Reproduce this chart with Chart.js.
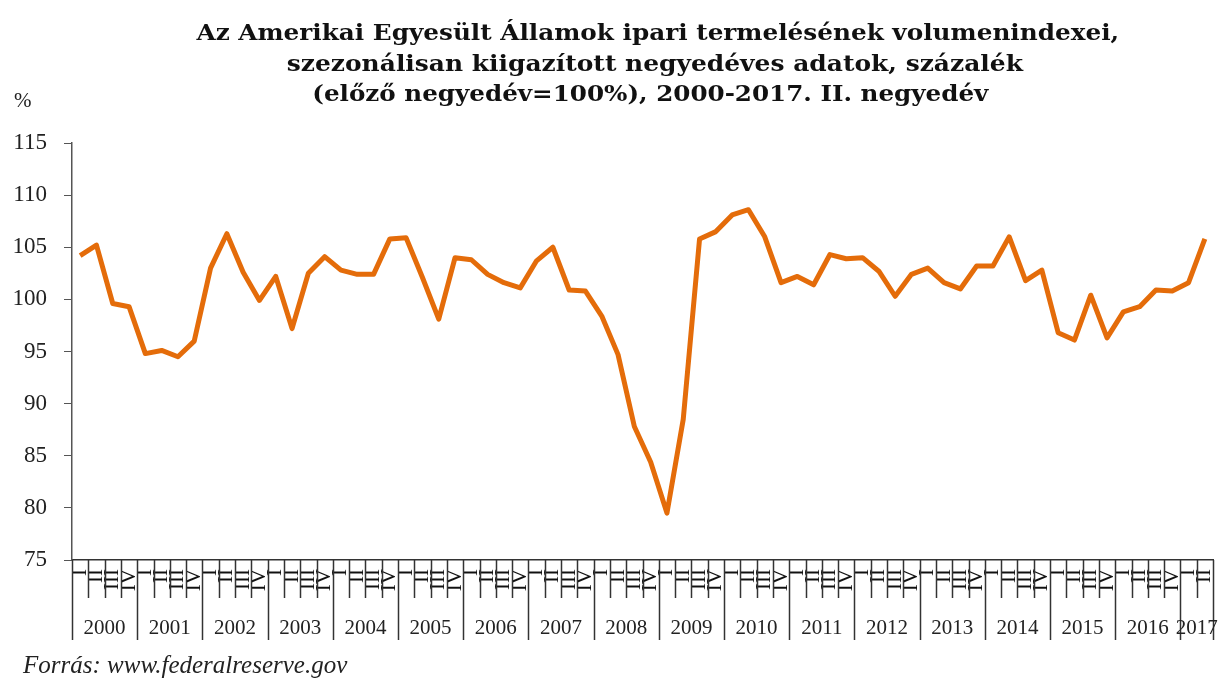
<!DOCTYPE html>
<html lang="hu">
<head>
<meta charset="utf-8">
<script src="https://cdn.jsdelivr.net/npm/chart.js@4.4.1/dist/chart.umd.min.js"></script>
<style>
    html, body { margin: 0; padding: 0; background: #fff; }
    #wrap { position: relative; width: 1222px; height: 682px; overflow: hidden; }
    #grafico { position: absolute; left: 0; top: 0; }
    .cim {
        position: absolute; left: 0; width: 1222px;
        text-align: center; font-family: "DejaVu Serif", serif; font-weight: bold;
        font-size: 22px; line-height: 31px; color: #111; white-space: nowrap;
    }
    .cim span { display: inline-block; transform-origin: center; }
    .egyseg { position: absolute; left: 14px; top: 88px; font-family: "Liberation Serif", serif; font-size: 21px; color: #222; }
    .forras { position: absolute; left: 23px; top: 651px; font-family: "Liberation Serif", serif; font-style: italic; font-size: 25px; color: #222; }
</style>
</head>
<body>
<div id="wrap">
    <canvas id="grafico" width="1222" height="682"></canvas>
    <div class="cim" id="cim1" style="top:17px">Az Amerikai Egyesült Államok ipari termelésének volumenindexei,</div>
    <div class="cim" id="cim2" style="top:48px">szezonálisan kiigazított negyedéves adatok, százalék</div>
    <div class="cim" id="cim3" style="top:78px">(előző negyedév=100%), 2000-2017. II. negyedév</div>
    <div class="egyseg">%</div>
    <div class="forras">Forrás: www.federalreserve.gov</div>
</div>
<script>
// Adatok
const evek = ['2000', '2001', '2002', '2003', '2004', '2005', '2006', '2007', '2008',
    '2009', '2010', '2011', '2012', '2013', '2014', '2015', '2016', '2017'];
const negyedevek = ['I', 'II', 'III', 'IV'];
const ertekek = [
    104.2, 105.2, 99.6, 99.3,
    94.8, 95.1, 94.5, 96.0,
    103.0, 106.3, 102.6, 99.9,
    102.2, 97.2, 102.5, 104.1,
    102.8, 102.4, 102.4, 105.8,
    105.9, 102.1, 98.1, 104.0,
    103.8, 102.4, 101.6, 101.1,
    103.7, 105.0, 100.9, 100.8,
    98.4, 94.7, 87.8, 84.4,
    79.5, 88.5, 105.8, 106.5,
    108.1, 108.6, 106.0, 101.6,
    102.2, 101.4, 104.3, 103.9,
    104.0, 102.7, 100.3, 102.4,
    103.0, 101.6, 101.0, 103.2,
    103.2, 106.0, 101.8, 102.8,
    96.8, 96.1, 100.4, 96.3,
    98.8, 99.3, 100.9, 100.8,
    101.6, 105.8
];
const yTicks = [75, 80, 85, 90, 95, 100, 105, 110, 115];

// Címkék: minden negyedévhez egy római szám
const cimkek = ertekek.map((v, i) => negyedevek[i % 4]);

const betu = '"Liberation Serif", serif';

// A cím sorait vízszintesen az eredeti szélességhez igazítjuk
function cimIgazitas() {
    const sorok = [['cim1', 923, 658], ['cim2', 736, 655], ['cim3', 676, 650]];
    sorok.forEach(([id, cel, kozep]) => {
        const el = document.getElementById(id);
        const span = document.createElement('span');
        span.textContent = el.textContent;
        el.textContent = '';
        el.appendChild(span);
        const w = span.getBoundingClientRect().width;
        span.style.transform = 'scaleX(' + (cel / w).toFixed(3) + ')';
        el.style.left = (kozep - 611) + 'px';
    });
}
cimIgazitas();

// Plugin: negyedéves és éves elválasztók, évszámok a tengely alatt
const evTengely = {
    id: 'evTengely',
    afterDraw(chart) {
        const ctx = chart.ctx;
        const x = chart.scales.x;
        const also = chart.chartArea.bottom;
        ctx.save();
        ctx.strokeStyle = '#333';
        ctx.lineWidth = 1.5;
        // negyedéves vonalak
        for (let i = 0; i <= ertekek.length; i++) {
            const px = Math.round(x.getPixelForValue(i - 0.5)) + 0.5;
            const hossz = (i % 4 === 0 || i === ertekek.length) ? 80 : 38;
            ctx.beginPath();
            ctx.moveTo(px, also);
            ctx.lineTo(px, also + hossz);
            ctx.stroke();
        }
        // évszámok
        ctx.fillStyle = '#222';
        ctx.font = '21px ' + betu;
        ctx.textAlign = 'center';
        ctx.textBaseline = 'middle';
        evek.forEach((ev, k) => {
            const elso = k * 4;
            const utolso = Math.min(elso + 3, ertekek.length - 1);
            const kozep = x.getPixelForValue((elso + utolso) / 2);
            ctx.fillText(ev, kozep, also + 68);
        });
        ctx.restore();
    }
};

const ctx = document.getElementById('grafico');
new Chart(ctx, {
    type: 'line',
    data: {
        labels: cimkek,
        datasets: [{
            data: ertekek,
            borderColor: '#E46C0A',
            borderWidth: 5,
            borderJoinStyle: 'round',
            pointRadius: 0,
            tension: 0,
            fill: false
        }]
    },
    options: {
        responsive: false,
        animation: false,
        layout: { padding: { top: 143, right: 9, bottom: 42, left: 0 } },
        plugins: {
            legend: { display: false },
            tooltip: { enabled: false }
        },
        scales: {
            x: {
                offset: true,
                grid: { display: true, offset: true, drawOnChartArea: false, drawTicks: false },
                border: { display: true, color: '#333', width: 1.5 },
                ticks: {
                    autoSkip: false,
                    minRotation: 90,
                    maxRotation: 90,
                    padding: 9,
                    color: '#111',
                    font: { family: betu, size: 21 }
                },
                afterFit(scale) {
                    scale.height = 80;
                    scale.paddingLeft = 0;
                    scale.paddingRight = 0;
                }
            },
            y: {
                min: 75,
                max: 115,
                afterBuildTicks(scale) { scale.ticks = yTicks.map(v => ({ value: v })); },
                grid: { drawOnChartArea: false, tickLength: 8, color: '#555' },
                border: { display: true, color: '#555', width: 1.5 },
                ticks: {
                    padding: 17,
                    color: '#222',
                    font: { family: betu, size: 23 }
                },
                afterFit(scale) { scale.width = 72; }
            }
        }
    },
    plugins: [evTengely]
});
</script>
</body>
</html>
